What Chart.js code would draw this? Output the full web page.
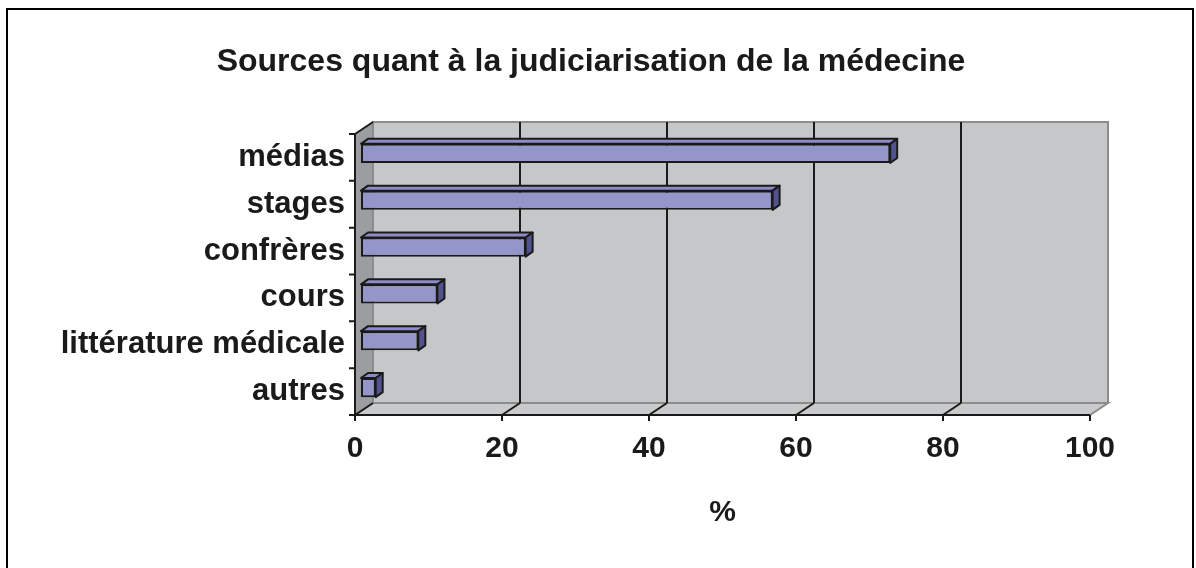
<!DOCTYPE html>
<html>
<head>
<meta charset="utf-8">
<script src="https://cdn.jsdelivr.net/npm/chart.js@4/dist/chart.umd.min.js"></script>
<style>
  body { margin: 0; background: #fff; }
  #wrap { width: 1196px; height: 568px; }
</style>
</head>
<body>
<div id="wrap"><canvas id="chart" width="1196" height="568"></canvas></div>
<script>
const categories = ["médias", "stages", "confrères", "cours", "littérature médicale", "autres"];
const percents = [72, 56, 22.4, 10.4, 7.8, 2];
const xTicks = [0, 20, 40, 60, 80, 100];

// depth of the 3D box and where the bars sit inside it
const DEPTH_X = 18, DEPTH_Y = -12;
const BAR_DX = 6, BAR_DY = -4;
const SIDE_DX = 7, SIDE_DY = -5;

const boxPlugin = {
    id: "box3d",
    beforeDraw(chart) {
        const ctx = chart.ctx;
        const a = chart.chartArea;
        const xs = chart.scales.x;
        ctx.save();
        ctx.fillStyle = "#fff";
        ctx.fillRect(0, 0, chart.width, chart.height);
        // outer frame
        ctx.strokeStyle = "#000";
        ctx.lineWidth = 2;
        ctx.strokeRect(7, 9, 1186, 600);

        // back wall
        ctx.fillStyle = "#c6c7c9";
        ctx.fillRect(a.left + DEPTH_X, a.top + DEPTH_Y, a.right - a.left, a.bottom - a.top);
        // floor
        ctx.beginPath();
        ctx.moveTo(a.left, a.bottom);
        ctx.lineTo(a.right, a.bottom);
        ctx.lineTo(a.right + DEPTH_X, a.bottom + DEPTH_Y);
        ctx.lineTo(a.left + DEPTH_X, a.bottom + DEPTH_Y);
        ctx.closePath();
        ctx.fillStyle = "#c9cacc";
        ctx.fill();
        ctx.strokeStyle = "#8c8c8c";
        ctx.lineWidth = 2;
        ctx.stroke();
        // left wall
        ctx.beginPath();
        ctx.moveTo(a.left, a.top);
        ctx.lineTo(a.left + DEPTH_X, a.top + DEPTH_Y);
        ctx.lineTo(a.left + DEPTH_X, a.bottom + DEPTH_Y);
        ctx.lineTo(a.left, a.bottom);
        ctx.closePath();
        ctx.fillStyle = "#9c9da0";
        ctx.fill();
        // wall outline
        ctx.strokeStyle = "#8c8c8c";
        ctx.lineWidth = 2;
        ctx.strokeRect(a.left + DEPTH_X, a.top + DEPTH_Y, a.right - a.left, a.bottom - a.top);

        // grid lines on back wall and floor
        ctx.strokeStyle = "#1a1a1a";
        ctx.lineWidth = 2;
        xTicks.forEach((v) => {
            if (v === 0 || v === 100) return;
            const px = xs.getPixelForValue(v);
            ctx.beginPath();
            ctx.moveTo(px + DEPTH_X, a.top + DEPTH_Y);
            ctx.lineTo(px + DEPTH_X, a.bottom + DEPTH_Y);
            ctx.moveTo(px + DEPTH_X, a.bottom + DEPTH_Y);
            ctx.lineTo(px, a.bottom);
            ctx.stroke();
        });
        ctx.beginPath();
        ctx.moveTo(a.left, a.bottom);
        ctx.lineTo(a.left + DEPTH_X, a.bottom + DEPTH_Y);
        ctx.moveTo(a.left, a.top);
        ctx.lineTo(a.left + DEPTH_X, a.top + DEPTH_Y);
        ctx.stroke();

        // axes
        ctx.strokeStyle = "#1a1a1a";
        ctx.lineWidth = 2;
        ctx.beginPath();
        ctx.moveTo(a.left, a.top);
        ctx.lineTo(a.left, a.bottom);
        ctx.lineTo(a.right, a.bottom);
        // y tick marks at category boundaries
        const step = (a.bottom - a.top) / categories.length;
        for (let i = 0; i <= categories.length; i++) {
            const py = a.top + i * step;
            ctx.moveTo(a.left - 6, py);
            ctx.lineTo(a.left, py);
        }
        xTicks.forEach((v) => {
            const px = xs.getPixelForValue(v);
            ctx.moveTo(px, a.bottom);
            ctx.lineTo(px, a.bottom + 6);
        });
        ctx.stroke();
        ctx.restore();
    },
    beforeDatasetsDraw(chart) {
        chart.ctx.save();
        chart.ctx.translate(BAR_DX, BAR_DY);
    },
    afterDatasetsDraw(chart) {
        const ctx = chart.ctx;
        const meta = chart.getDatasetMeta(0);
        ctx.lineWidth = 2;
        ctx.strokeStyle = "#1a1a1a";
        ctx.lineJoin = "round";
        meta.data.forEach((bar) => {
            const p = bar.getProps(["x", "y", "base", "height"], true);
            const l = p.base, r = p.x, t = p.y - p.height / 2, b = p.y + p.height / 2;
            // top face
            ctx.beginPath();
            ctx.moveTo(l, t);
            ctx.lineTo(l + SIDE_DX, t + SIDE_DY);
            ctx.lineTo(r + SIDE_DX, t + SIDE_DY);
            ctx.lineTo(r, t);
            ctx.closePath();
            ctx.fillStyle = "#8c8cc6";
            ctx.fill();
            ctx.stroke();
            // side face
            ctx.beginPath();
            ctx.moveTo(r, t);
            ctx.lineTo(r + SIDE_DX, t + SIDE_DY);
            ctx.lineTo(r + SIDE_DX, b + SIDE_DY);
            ctx.lineTo(r, b);
            ctx.closePath();
            ctx.fillStyle = "#52528f";
            ctx.fill();
            ctx.stroke();
        });
        ctx.restore();
    }
};

const fontFamily = "'Liberation Sans', Arial, sans-serif";
const tickFont = { family: fontFamily, size: 30, weight: "bold" };
const catFont = { family: fontFamily, size: 31, weight: "bold" };
const titleFont = { family: fontFamily, size: 32, weight: "bold" };

new Chart(document.getElementById("chart"), {
    type: "bar",
    data: {
        labels: categories,
        datasets: [{
            data: percents,
            backgroundColor: "#9495c9",
            borderColor: "#1a1a1a",
            borderWidth: 2,
            borderSkipped: false,
            categoryPercentage: 1,
            barPercentage: 0.41
        }]
    },
    options: {
        indexAxis: "y",
        responsive: false,
        animation: false,
        layout: { padding: { left: 0, right: 14, top: 0, bottom: 0 } },
        plugins: {
            legend: { display: false },
            tooltip: { enabled: false },
            title: {
                display: true,
                text: "Sources quant à la judiciarisation de la médecine",
                color: "#1a1a1a",
                font: titleFont,
                padding: { top: 42.8, bottom: 52.8 }
            }
        },
        scales: {
            x: {
                min: 0,
                max: 100,
                afterBuildTicks: (scale) => { scale.ticks = xTicks.map((v) => ({ value: v })); },
                afterFit: (scale) => { scale.height = 153; },
                grid: { display: false, drawTicks: false },
                border: { display: false },
                ticks: { color: "#1a1a1a", font: tickFont, padding: 16, maxRotation: 0 },
                title: {
                    display: true,
                    text: "%",
                    color: "#1a1a1a",
                    font: tickFont,
                    padding: { top: 0, bottom: 37 }
                }
            },
            y: {
                afterFit: (scale) => { scale.width = 355; },
                grid: { display: false, drawTicks: false },
                border: { display: false },
                ticks: { color: "#1a1a1a", font: catFont, padding: 10 }
            },
            // empty right-hand spacer so the plot ends where the reference's does
            yRight: {
                type: "category",
                position: "right",
                labels: categories,
                afterFit: (scale) => { scale.width = 92; },
                grid: { display: false, drawTicks: false },
                border: { display: false },
                ticks: { display: false }
            }
        }
    },
    plugins: [boxPlugin]
});
</script>
</body>
</html>
